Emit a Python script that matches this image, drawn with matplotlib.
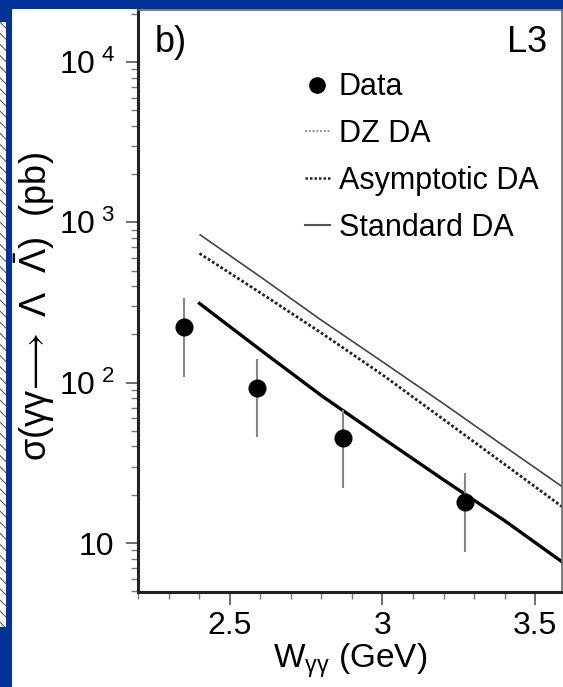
import math
import matplotlib
matplotlib.use("Agg")
import matplotlib.pyplot as plt
from matplotlib.lines import Line2D
from matplotlib.patches import Rectangle
from matplotlib import ticker

plt.rcParams['font.family'] = ['Liberation Sans', 'DejaVu Sans']
plt.rcParams['mathtext.fontset'] = 'custom'
plt.rcParams['mathtext.rm'] = 'Liberation Sans'
plt.rcParams['mathtext.it'] = 'Liberation Sans'
plt.rcParams['mathtext.sf'] = 'Liberation Sans'
plt.rcParams['mathtext.default'] = 'regular'
plt.rcParams['hatch.linewidth'] = 0.6

# measured points (W in GeV, sigma in pb) with asymmetric errors
data_w = [2.35, 2.59, 2.87, 3.27]
data_sigma = [224, 93, 45, 18]
data_err_lo = [115, 47, 23, 9.2]
data_err_hi = [111, 48, 23, 9.4]

# model curves
curve_w = [2.4, 2.6, 2.8, 3.0, 3.2, 3.4, 3.59]
standard_da = [841, 457, 245, 135, 74, 40, 22.4]
asymptotic_da = [640, 363, 204, 112, 59, 31, 16.8]
dz_da = [312, 160, 83, 45.2, 24.8, 13.8, 7.6]

ytick_vals = [10, 100, 1000, 10000]
xtick_vals = [2.5, 3, 3.5]

blue = '#003399'

fig = plt.figure(figsize=(5.63, 6.87), dpi=100, facecolor=blue)

# white slide panel and the hatched strip on the left
fig.add_artist(Rectangle((12 / 563, 0), 1, (687 - 9) / 687, transform=fig.transFigure,
                         facecolor='white', edgecolor='none', zorder=0))
fig.add_artist(Rectangle((0, (687 - 627) / 687), 6 / 563, (627 - 22) / 687,
                         transform=fig.transFigure, facecolor='white',
                         edgecolor='#333333', hatch='\\\\\\', linewidth=0, zorder=0))

ax = fig.add_axes([138 / 563, (687 - 592) / 687, 424 / 563, 582 / 687])
ax.set_facecolor('white')

ax.plot(curve_w, standard_da, color='#444444', lw=1.2, solid_capstyle='butt')
ax.plot(curve_w, asymptotic_da, color='#222222', lw=2.0, linestyle=(0, (1, 0.8)))
ax.plot(curve_w, dz_da, color='black', lw=2.4)

ax.errorbar(data_w, data_sigma, yerr=[data_err_lo, data_err_hi], fmt='o',
            color='black', ms=12, ecolor='#888888', elinewidth=1.5, capsize=0, zorder=5)

ax.set_yscale('log')
ax.set_xlim(2.1984, 3.5885)
ax.set_ylim(4.95, 21100)

ax.yaxis.set_major_locator(ticker.FixedLocator(ytick_vals))
ax.yaxis.set_minor_locator(ticker.LogLocator(base=10, subs=range(2, 10)))
ax.yaxis.set_minor_formatter(ticker.NullFormatter())


def ylab(v, pos):
    if v == 10:
        return '10'
    return r'10$^{\ %d}$' % round(math.log10(v))


ax.yaxis.set_major_formatter(ticker.FuncFormatter(ylab))
ax.xaxis.set_major_locator(ticker.FixedLocator(xtick_vals))
ax.xaxis.set_major_formatter(ticker.FuncFormatter(lambda v, p: ('%g' % v)))
ax.xaxis.set_minor_locator(ticker.MultipleLocator(0.1))

ax.tick_params(axis='both', which='major', direction='out', length=9, width=1.2,
               labelsize=23, color='#555555')
ax.tick_params(axis='both', which='minor', direction='out', length=5, width=1.0,
               color='#777777')
ax.tick_params(axis='y', pad=8)
ax.tick_params(axis='x', pad=5)

for side in ['left', 'bottom']:
    ax.spines[side].set_linewidth(2.2)
    ax.spines[side].set_color('#222222')
for side in ['top', 'right']:
    ax.spines[side].set_linewidth(1.2)
    ax.spines[side].set_color('#666666')

ax.set_xlabel(r'W$_{\gamma\gamma}$ (GeV)', fontsize=24, labelpad=0)
ax.set_ylabel(r'$\sigma(\gamma\gamma\!\longrightarrow\ \Lambda\ \ \bar{\Lambda})$  (pb)', fontsize=26)
ax.yaxis.set_label_coords(-0.19, 0.49)

ax.text(0.04, 0.975, 'b)', transform=ax.transAxes, fontsize=26, va='top', ha='left')
ax.text(0.965, 0.975, 'L3', transform=ax.transAxes, fontsize=26, va='top', ha='right')

handles = [
    Line2D([], [], marker='o', color='black', linestyle='none', ms=11),
    Line2D([], [], color='#999999', lw=1.5, linestyle=(0, (1, 0.8))),
    Line2D([], [], color='#222222', lw=1.8, linestyle=(0, (1, 0.8))),
    Line2D([], [], color='#555555', lw=1.5),
]
labels = ['Data', 'DZ DA', 'Asymptotic DA', 'Standard DA']
ax.legend(handles, labels, loc='upper left', bbox_to_anchor=(0.394, 0.893),
          frameon=False, fontsize=22, handlelength=0.8, handletextpad=0.3,
          labelspacing=0.55, borderaxespad=0, borderpad=0)

fig.savefig('out.png', dpi=100, facecolor=blue)
